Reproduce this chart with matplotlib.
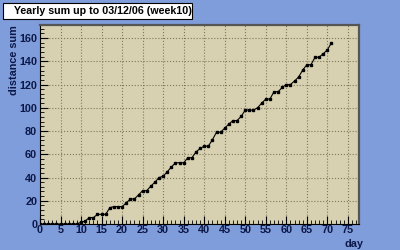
import numpy as np
import matplotlib
matplotlib.use("Agg")
import matplotlib.pyplot as plt
from matplotlib.ticker import MultipleLocator
from matplotlib.patches import Rectangle

# cumulative distance per day
days = list(range(0, 72))
dist = [0, 0, 0, 0, 0, 0, 0, 0, 0, 0,
        1.5, 2.5, 5.5, 5.5, 8.3, 8.3, 8.3, 14, 15, 15,
        15, 18, 21.6, 21.6, 25, 28.7, 28.7, 32.6, 36, 40,
        41, 45, 49, 52.7, 52.7, 52.7, 57, 57, 62, 65,
        67, 67, 72.5, 79, 79, 82.5, 86, 89, 89, 92.6,
        98, 98, 98, 100, 104, 107.5, 107.5, 113.8, 113.8, 117.5,
        120, 120, 123, 126.5, 132.5, 137, 137, 143.5, 143.5, 146.6,
        149.7, 156]

title = "Yearly sum up to 03/12/06 (week10)"
plt.rcParams['font.family'] = ['Liberation Sans', 'DejaVu Sans']
plt.rcParams['font.weight'] = 'bold'

navy = '#0c1848'
fig = plt.figure(figsize=(4, 2.5), dpi=100)
fig.patch.set_facecolor('#809ddb')
ax = fig.add_axes([0.1, 0.104, 0.7975, 0.796])
ax.set_facecolor('#d7d1b1')

ax.plot(days, dist, color='black', lw=0.8, marker='s', ms=1.8)

ax.set_xlim(0, 77.7)
ax.set_ylim(0, 171.2)
ax.xaxis.set_major_locator(MultipleLocator(5))
ax.xaxis.set_minor_locator(MultipleLocator(1))
ax.yaxis.set_major_locator(MultipleLocator(20))
ax.yaxis.set_minor_locator(MultipleLocator(4))
ax.tick_params(which='both', direction='in', colors='black', labelcolor=navy,
               labelsize=7.8, pad=2)
ax.tick_params(which='major', length=6, width=0.8)
ax.tick_params(which='minor', length=3, width=0.6)
ax.tick_params(axis='x', pad=1)
for lab in ax.get_xticklabels() + ax.get_yticklabels():
    lab.set_fontweight('bold')
ax.grid(True, which='major', ls=':', color='#7e7858', lw=0.8)

for side in ['left', 'bottom']:
    ax.spines[side].set_color('black')
    ax.spines[side].set_linewidth(0.8)
for side in ['top', 'right']:
    ax.spines[side].set_color('#555555')
    ax.spines[side].set_linewidth(1.6)

ax.set_xlabel('day', fontsize=7.8, fontweight='bold', color=navy)
ax.xaxis.set_label_coords(0.985, -0.075)
ax.xaxis.label.set_ha('center')
ax.xaxis.label.set_va('top')
ax.set_ylabel('distance sum', fontsize=7.8, fontweight='bold', color=navy)
ax.yaxis.set_label_coords(-0.08, 1.0)
ax.yaxis.label.set_ha('right')
ax.yaxis.label.set_va('center')

fig.patches.append(Rectangle((3 / 400, 1 - 19 / 250), 189 / 400, 16 / 250,
                             transform=fig.transFigure, facecolor='white',
                             edgecolor='black', lw=0.8))
fig.text(14 / 400, 1 - 11 / 250, title, fontsize=7.7, fontweight='bold',
         color='black', va='center', ha='left')

fig.savefig('out.png', dpi=100, facecolor=fig.get_facecolor())
